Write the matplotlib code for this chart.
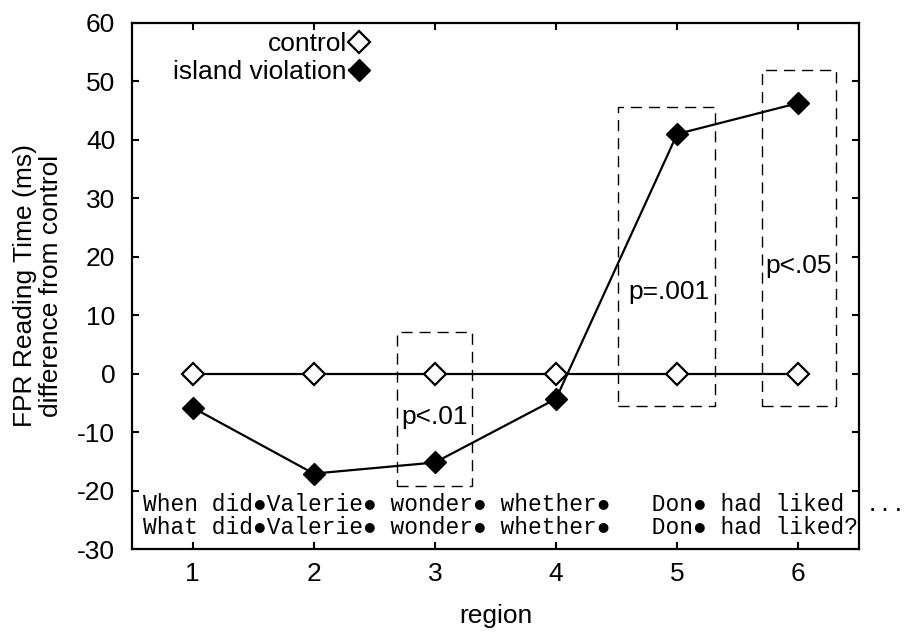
import matplotlib
matplotlib.use("Agg")
import matplotlib.pyplot as plt
from matplotlib.patches import Rectangle

plt.rcParams['font.family'] = ['Liberation Sans', 'DejaVu Sans']
plt.rcParams['axes.unicode_minus'] = False

# data
regions = [1, 2, 3, 4, 5, 6]
control = [0, 0, 0, 0, 0, 0]
island = [-5.8, -17.1, -15.2, -4.3, 41.0, 46.3]

# significance boxes (x0, x1, y0, y1) and labels
box_x0 = [2.69, 4.51, 5.70]
box_x1 = [3.31, 5.31, 6.31]
box_y0 = [-19.2, -5.5, -5.5]
box_y1 = [7.2, 45.7, 51.9]
p_labels = ['p<.01', 'p=.001', 'p<.05']
p_x = [3.0, 4.93, 6.0]
p_y = [-7.5, 14.0, 18.5]

sentence1 = "When did\u25cfValerie\u25cf wonder\u25cf whether\u25cf   Don\u25cf had liked"
sentence2 = "What did\u25cfValerie\u25cf wonder\u25cf whether\u25cf   Don\u25cf had liked?"

FS = 19

fig = plt.figure(figsize=(9.06, 6.33), dpi=100)
ax = fig.add_axes([0.1457, 0.1327, 0.8023, 0.831])

ax.plot(regions, control, color='black', lw=1.6, marker='D', markersize=11,
        markerfacecolor='white', markeredgecolor='black', markeredgewidth=1.6,
        label='control', zorder=3)
ax.plot(regions, island, color='black', lw=1.6, marker='D', markersize=11,
        markerfacecolor='black', label='island violation', zorder=4)

for x0, x1, y0, y1 in zip(box_x0, box_x1, box_y0, box_y1):
    ax.add_patch(Rectangle((x0, y0), x1 - x0, y1 - y0, fill=False,
                           edgecolor='black', lw=1.0, linestyle=(0, (8, 5)),
                           zorder=2))
for lab, x, y in zip(p_labels, p_x, p_y):
    ax.text(x, y, lab, ha='center', va='center', fontsize=FS, zorder=5)

mono = ['Liberation Mono', 'DejaVu Sans Mono']
ax.text(0.587, -23.5, sentence1, family=mono, fontsize=16.5, va='baseline', ha='left')
ax.text(0.587, -27.4, sentence2, family=mono, fontsize=16.5, va='baseline', ha='left')
ax.text(6.555, -23.5, "...", family=mono, fontsize=16, va='baseline', ha='left',
        clip_on=False)

ax.set_xlim(0.5, 6.5)
ax.set_ylim(-30, 60)
ax.set_xticks(regions)
ax.set_yticks(range(-30, 61, 10))
ax.tick_params(direction='in', top=True, right=True, length=5, width=1.5,
               labelsize=FS)
ax.tick_params(axis='y', pad=12)
ax.tick_params(axis='x', pad=9)
for s in ax.spines.values():
    s.set_linewidth(1.6)

ax.set_xlabel('region', fontsize=FS, labelpad=13)
ax.set_ylabel('FPR Reading Time (ms)\ndifference from control', fontsize=FS,
              labelpad=10, linespacing=1.12)

ax.legend(loc='upper right', bbox_to_anchor=(0.3246, 0.982), markerfirst=False,
          frameon=False, fontsize=FS, handlelength=0.7, handletextpad=0.1,
          borderpad=0, borderaxespad=0, labelspacing=0.14)

fig.savefig('out.png', dpi=100)
